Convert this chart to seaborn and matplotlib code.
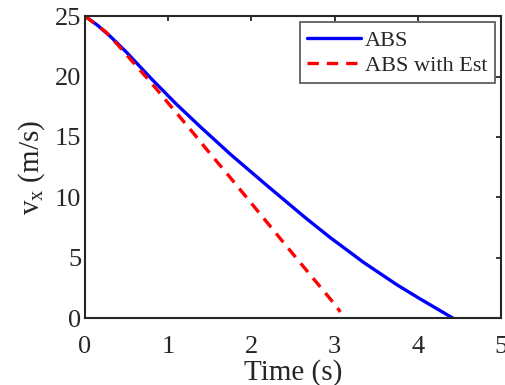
import matplotlib
matplotlib.use("Agg")
import matplotlib.pyplot as plt
import seaborn as sns
import pandas as pd

# Data
t_abs = [0, 0.15, 0.3, 0.5, 0.8, 1.1, 1.4, 1.75, 2.2, 2.65, 2.95, 3.35, 3.75, 4.0, 4.42]
v_abs = [25, 24.25, 23.35, 22.0, 19.8, 17.7, 15.75, 13.55, 10.9, 8.3, 6.65, 4.6, 2.75, 1.7, 0.0]
t_est = [0, 0.25, 0.45, 0.6, 0.8, 1.0, 1.25, 1.5, 1.75, 2.0, 2.5, 3.0, 3.07]
v_est = [25, 23.7, 22.2, 21.0, 19.45, 17.8, 15.75, 13.65, 11.6, 9.5, 5.3, 1.15, 0.5]
series_names = ["ABS", "ABS with Est"]
x_ticks = [0, 1, 2, 3, 4, 5]
y_ticks = [0, 5, 10, 15, 20, 25]

sns.set_theme(style="white")
plt.rcParams['font.family'] = ['Liberation Serif', 'DejaVu Serif']
plt.rcParams['mathtext.fontset'] = 'custom'
plt.rcParams['mathtext.rm'] = 'Liberation Serif'
plt.rcParams['mathtext.it'] = 'Liberation Serif'

df = pd.concat([
    pd.DataFrame({"t": t_abs, "v": v_abs, "s": series_names[0]}),
    pd.DataFrame({"t": t_est, "v": v_est, "s": series_names[1]}),
])

fig = plt.figure(figsize=(5.06, 3.85), dpi=100)
ax = fig.add_axes([0.168, 0.174, 0.822, 0.784])

sns.lineplot(data=df, x="t", y="v", hue="s", style="s",
             palette={"ABS": "#0000ff", "ABS with Est": "#ff0000"},
             dashes={"ABS": "", "ABS with Est": (3.4, 2.4)},
             linewidth=2.4, ax=ax, sort=False, estimator=None)

ax.set_xlim(0, 5)
ax.set_ylim(0, 25)
ax.set_xticks(x_ticks)
ax.set_yticks(y_ticks)
ax.tick_params(direction='in', top=True, right=True, length=3.5, width=1.3,
               labelsize=19, colors='#262626')
ax.tick_params(axis='x', pad=13)
ax.tick_params(axis='y', pad=2.5)
for sp in ax.spines.values():
    sp.set_linewidth(1.5)
    sp.set_color('#262626')
    sp.set_visible(True)

ax.set_xlabel("Time (s)", fontsize=21, labelpad=1, color='#262626')
ax.set_ylabel(r"$\mathregular{v_x}$ (m/s)", fontsize=21, labelpad=6, color='#262626')

leg = ax.legend(loc='upper right', fontsize=16, frameon=True, fancybox=False,
                edgecolor='#262626', handlelength=2.4, handletextpad=0.18,
                borderpad=0.35, labelspacing=0.2, borderaxespad=0.27)
leg.get_frame().set_linewidth(1.2)
leg.set_title(None)

fig.savefig("out.png", dpi=100)
